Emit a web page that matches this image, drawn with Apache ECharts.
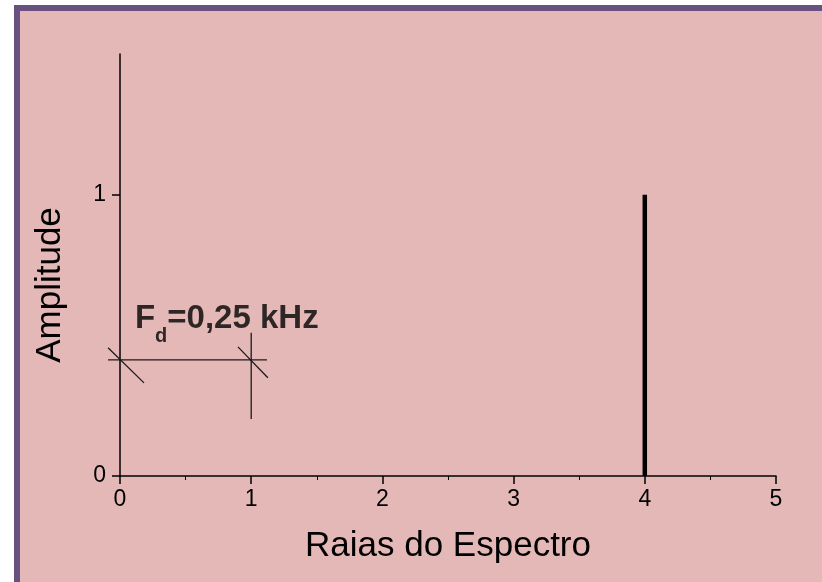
<!DOCTYPE html>
<html><head><meta charset="utf-8">
<script src="https://cdn.jsdelivr.net/npm/echarts@6/dist/echarts.min.js"></script>
<style>html,body{margin:0;background:#fff}#c{width:822px;height:582px}</style></head>
<body><div id="c"></div>
<script>
// ---- data ----
const xTickValues = [0, 1, 2, 3, 4, 5];
const yTickValues = [0, 1];
const lineNumbers = [4];        // spectral line position
const lineAmplitudes = [1];     // spectral line amplitude
// annotation segments: [x1, y1, x2, y2] in data units
const spacingLine = [-0.091, 0.413, 1.12, 0.413];
const markerAt1 = [1, 0.509, 1, 0.203];
const slashAt0 = [-0.091, 0.456, 0.183, 0.331];
const slashAt1 = [0.899, 0.459, 1.127, 0.349];
const annotationAnchor = [[0.114, 0.559]];
const annotationText = '{b|F}{s|d}{b|=0,25 kHz}';

const stems = [];
lineNumbers.forEach((x, i) => { stems.push([x, 0], [x, lineAmplitudes[i]]); });

const font = 'Liberation Sans, Arial, sans-serif';
const chart = echarts.init(document.getElementById('c'), null, {renderer: 'canvas'});
chart.setOption({
  animation: false,
  backgroundColor: '#fff',
  graphic: [{
    type: 'rect', z: -10, silent: true,
    shape: {x: 17, y: 8, width: 1000, height: 1000},
    style: {fill: '#e5b8b8', stroke: '#685080', lineWidth: 6}
  }],
  grid: {left: 120, right: 46, top: 54, bottom: 106, containLabel: false},
  xAxis: {
    type: 'value', min: 0, max: 5, interval: 1,
    axisLine: {lineStyle: {color: '#000', width: 1.5}},
    axisTick: {length: 8, lineStyle: {color: '#000', width: 1.5}},
    minorTick: {show: true, splitNumber: 2, length: 4, lineStyle: {color: '#000', width: 1}},
    splitLine: {show: false},
    axisLabel: {fontSize: 23, color: '#000', margin: 12, fontFamily: font},
    name: 'Raias do Espectro', nameLocation: 'middle', nameGap: 53,
    nameTextStyle: {fontSize: 35, color: '#000', fontFamily: font}
  },
  yAxis: {
    type: 'value', min: 0, max: 1.5, interval: 0.5,
    axisLine: {show: true, lineStyle: {color: '#000', width: 1.5}},
    axisTick: {show: true, length: 8, customValues: yTickValues, lineStyle: {color: '#000', width: 1.5}},
    splitLine: {show: false},
    axisLabel: {fontSize: 23, color: '#000', margin: 14, fontFamily: font, customValues: yTickValues},
    name: 'Amplitude', nameLocation: 'middle', nameGap: 52,
    nameTextStyle: {fontSize: 35, color: '#000', fontFamily: font, padding: [0, 40, 0, 0]}
  },
  series: [
    {type: 'line', data: stems, symbol: 'none', silent: true,
     lineStyle: {color: '#000', width: 4.5}, z: 4},
    {type: 'custom', data: [spacingLine, markerAt1, slashAt0, slashAt1], clip: false, silent: true, z: 3,
     encode: {x: [0, 2], y: [1, 3]},
     renderItem: (params, api) => {
       const p1 = api.coord([api.value(0), api.value(1)]);
       const p2 = api.coord([api.value(2), api.value(3)]);
       return {type: 'line', shape: {x1: p1[0], y1: p1[1], x2: p2[0], y2: p2[1]},
               style: {stroke: '#1a1a1a', lineWidth: 1.3}};
     }},
    {type: 'scatter', data: annotationAnchor, symbolSize: 0, silent: true, z: 5,
     itemStyle: {color: '#000'},
     label: {show: true, position: 'right', distance: 0, color: '#000', textBorderWidth: 0,
       formatter: annotationText,
       rich: {
         b: {fontSize: 33, fontWeight: 'bold', color: '#000', textBorderWidth: 0, fontFamily: font, lineHeight: 56, verticalAlign: 'middle'},
         s: {fontSize: 20, fontWeight: 'bold', color: '#000', textBorderWidth: 0, fontFamily: font, lineHeight: 56, verticalAlign: 'bottom'}
       }}}
  ]
});
</script></body></html>
